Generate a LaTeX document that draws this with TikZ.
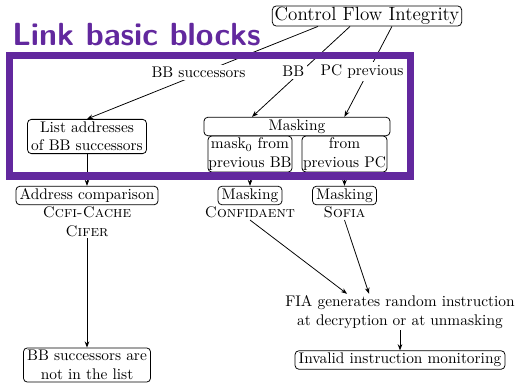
\documentclass[tikz,border=0pt]{standalone}
\usetikzlibrary{arrows.meta,positioning}
\definecolor{titlepurple}{RGB}{98,40,158}
\begin{document}
\begin{tikzpicture}[x=0.6494pt,y=-0.6494pt,
  frame/.style={draw,rounded corners=2.5pt,line width=0.5pt,inner xsep=2.4pt,inner ysep=1.6pt,
    font=\fontsize{10}{12}\selectfont},
  box/.style={frame,text height=6.9pt,text depth=1.9pt},
  mbox/.style={frame,align=center},
  subbox/.style={mbox,inner xsep=0.3pt,inner ysep=0.8pt,minimum height=23.4pt},
  plain/.style={inner sep=1pt,align=center,font=\fontsize{10}{12}\selectfont},
  lbl/.style={fill=white,inner sep=1.5pt,font=\fontsize{10}{12}\selectfont},
  arr/.style={-{Stealth[length=4pt,width=3pt]},line width=0.5pt}]
\useasboundingbox (0,0) rectangle (521,383);

% top of the hierarchy
\node[box,font=\fontsize{12.4}{15}\selectfont,inner xsep=1.5pt,inner ysep=1pt,text height=8.6pt,text depth=2.4pt] (cfi) at (367,16) {Control Flow Integrity};

% second level
\node[mbox] (list) at (87,136.5) {List addresses\\of BB successors};
\node[subbox,minimum width=54.5pt] (sub0) at (250,154) {mask$_0$ from\\previous BB};
\node[subbox,minimum width=55.2pt] (subpc) at (344.5,154) {from\\previous PC};
\node[box,fill=white,minimum width=120.8pt] (mask) at (297,126.5) {Masking};

% implementations
\node[box] (addr) at (87,195.5) {Address comparison};
\node[plain,below=0pt of addr] (ccfi) {\textsc{Ccfi-Cache}\\\textsc{Cifer}};
\node[box] (mconf) at (250,195.5) {Masking};
\node[plain,below=0pt of mconf] (conf) {\textsc{Confidaent}};
\node[box] (msofia) at (344.5,195.5) {Masking};
\node[plain,below=0pt of msofia] (sofia) {\textsc{Sofia}};

% attack and detection
\node[plain] (fia) at (400,312) {FIA generates random instruction\\at decryption or at unmasking};
\node[box] (inv) at (400,360) {Invalid instruction monitoring};
\node[mbox] (bbnot) at (87,365) {BB successors are\\not in the list};

% connectors
\draw[arr] ([xshift=-31.8pt]cfi.south) -- node[lbl,pos=0.5,xshift=-2.6pt] {BB successors} (list.north);
\draw[arr] ([xshift=-11pt]cfi.south) -- node[lbl,pos=0.5,xshift=-5pt] {BB} ([xshift=-29.2pt]mask.north);
\draw[arr] ([xshift=16.2pt]cfi.south) -- node[lbl,pos=0.5,xshift=-4pt] {PC previous} ([xshift=30.8pt]mask.north);
\draw[arr] (list.south) -- (addr.north);
\draw[arr] (sub0.south) -- (mconf.north);
\draw[arr] (subpc.south) -- (msofia.north);
\draw[arr] (ccfi.south) -- (bbnot.north);
\draw[arr] (conf.south) -- ([xshift=-34.4pt]fia.north);
\draw[arr] (sofia.south) -- ([xshift=-20.1pt]fia.north);
\draw[arr] (fia.south) -- (inv.north);

% highlighted group
\draw[titlepurple,line width=4.55pt] (9.5,55.5) rectangle (410.5,176);
\node[anchor=base west,inner sep=0pt,text=titlepurple,font=\fontsize{20.8}{25}\sffamily\bfseries] (title) at (12,46) {Link basic blocks};
\end{tikzpicture}
\end{document}
